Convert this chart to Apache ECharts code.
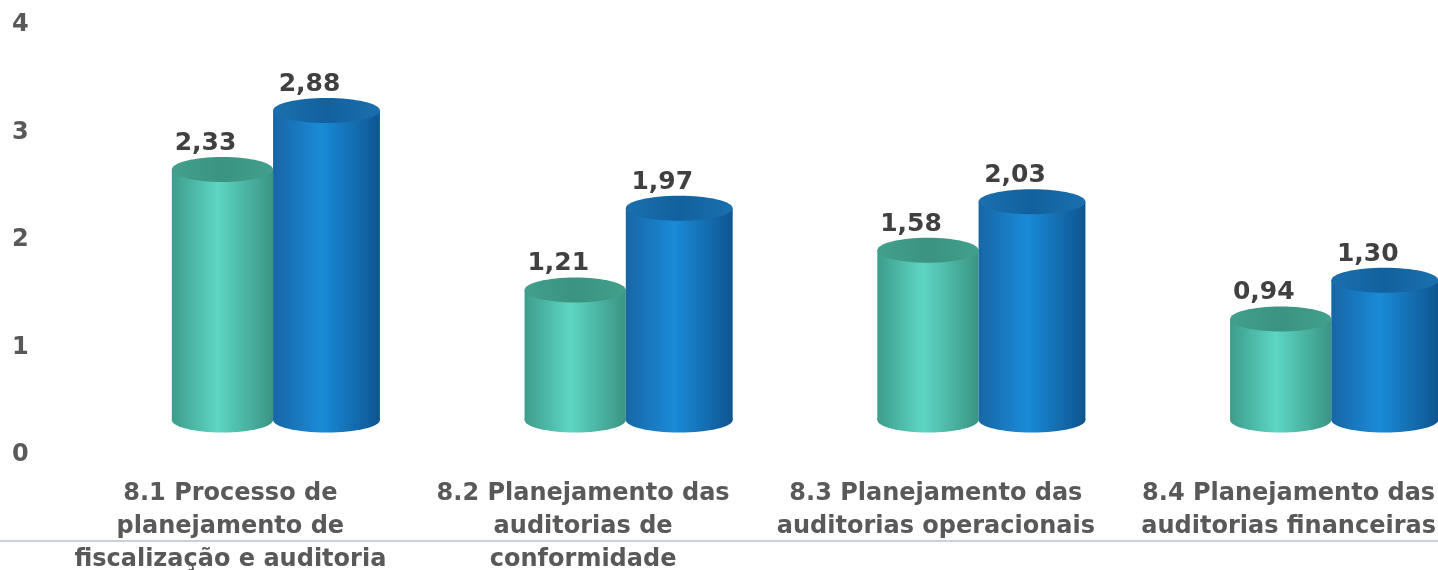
<!DOCTYPE html>
<html>
<head>
<meta charset="utf-8">
<script src="https://cdn.jsdelivr.net/npm/echarts@6/dist/echarts.min.js"></script>
<style>
html,body{margin:0;padding:0;background:#fff;}
#chart{width:1438px;height:570px;}
</style>
</head>
<body>
<div id="chart"></div>
<script>
const categories = [
  "8.1 Processo de\nplanejamento de\nfiscalização e auditoria",
  "8.2 Planejamento das\nauditorias de\nconformidade",
  "8.3 Planejamento das\nauditorias operacionais",
  "8.4 Planejamento das\nauditorias financeiras"
];
const seriesA = [2.33, 1.21, 1.58, 0.94];
const seriesB = [2.88, 1.97, 2.03, 1.30];
const yTicks = [0, 1, 2, 3, 4];

const FONT = "'DejaVu Sans', sans-serif";
const chart = echarts.init(document.getElementById('chart'));

function fmt(v){ return v.toFixed(2).replace('.', ','); }

function makeRender(leftFrac, widthFrac, colors, topColors){
  return function(params, api){
    const idx = api.value(0);
    const val = api.value(1);
    const band = api.size([1, 0])[0];
    const pTop = api.coord([idx, val]);
    const pBase = api.coord([idx, 0]);
    const lift = 35;
    const x0 = pTop[0] + leftFrac * band;
    const w = widthFrac * band;
    const rx = w / 2, ry = 12.5;
    const cx = x0 + rx;
    const yTop = pTop[1] - lift;
    const yBot = pBase[1] - lift;
    const grad = new echarts.graphic.LinearGradient(0, 0, 1, 0, [
      {offset: 0, color: colors[0]},
      {offset: 0.45, color: colors[1]},
      {offset: 1, color: colors[2]}
    ]);
    const topGrad = new echarts.graphic.LinearGradient(0, 0, 1, 0, [
      {offset: 0, color: topColors[0]},
      {offset: 0.5, color: topColors[1]},
      {offset: 1, color: topColors[0]}
    ]);
    return {
      type: 'group',
      children: [
        {type: 'ellipse', shape: {cx: cx, cy: yBot, rx: rx, ry: ry}, style: {fill: grad}},
        {type: 'rect', shape: {x: x0, y: yTop, width: w, height: yBot - yTop}, style: {fill: grad}},
        {type: 'ellipse', shape: {cx: cx, cy: yTop, rx: rx, ry: ry}, style: {fill: topGrad}},
        {type: 'text', style: {
          x: cx - 0.048 * band, y: yTop - ry - 1,
          text: fmt(val), fill: '#404040',
          font: "bold 25px " + FONT,
          textAlign: 'center', textVerticalAlign: 'bottom'
        }}
      ]
    };
  };
}

chart.setOption({
  animation: false,
  backgroundColor: '#ffffff',
  grid: {left: 54, width: 1411, top: 25, height: 430, containLabel: false, outerBoundsMode: 'none'},
  xAxis: {
    type: 'category',
    data: categories,
    axisLine: {show: false},
    axisTick: {show: false},
    axisLabel: {
      interval: 0,
      margin: 22,
      color: '#595959',
      fontFamily: FONT,
      fontWeight: 'bold',
      fontSize: 24,
      lineHeight: 33,
      align: 'center'
    }
  },
  yAxis: {
    type: 'value',
    min: 0, max: 4, interval: 1,
    axisLine: {show: false},
    axisTick: {show: false},
    splitLine: {show: false},
    axisLabel: {
      margin: 42,
      align: 'left',
      padding: [6, 0, 0, 0],
      color: '#595959',
      fontFamily: FONT,
      fontWeight: 'bold',
      fontSize: 24,
      formatter: function(v){ return yTicks.indexOf(v) >= 0 ? String(v) : ''; }
    }
  },
  graphic: [
    {type: 'line', shape: {x1: 0, y1: 541, x2: 1438, y2: 541}, style: {stroke: '#95a1b1', lineWidth: 1.2}, z: -1}
  ],
  series: [
    {
      type: 'custom',
      name: 'A',
      renderItem: makeRender(-0.166, 0.287, ['#3d9c8b', '#5dd6c4', '#3a9483'], ['#41a08c', '#3b9381']),
      data: seriesA.map((v, i) => [i, v]),
      encode: {x: 0, y: 1}
    },
    {
      type: 'custom',
      name: 'B',
      renderItem: makeRender(0.121, 0.303, ['#1766a6', '#1a8bd8', '#0f5590'], ['#1a6fae', '#12619e']),
      data: seriesB.map((v, i) => [i, v]),
      encode: {x: 0, y: 1}
    }
  ]
});
</script>
</body>
</html>
